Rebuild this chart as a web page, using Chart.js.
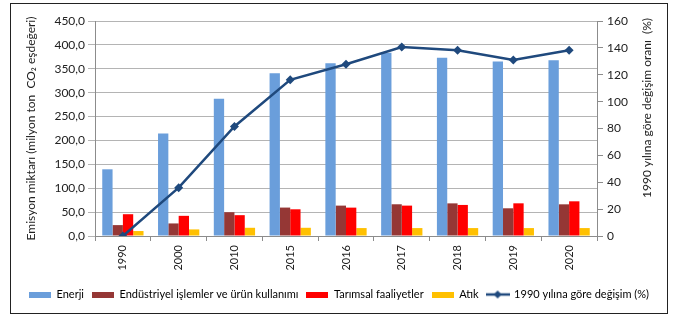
<!DOCTYPE html>
<html>
<head>
<meta charset="utf-8">
<script src="https://cdn.jsdelivr.net/npm/chart.js@4/dist/chart.umd.min.js"></script>
<style>
  html, body { margin: 0; padding: 0; background: #fff; }
  #wrap { width: 674px; height: 328px; position: relative; }
</style>
</head>
<body>
<div id="wrap"><canvas id="sera" width="674" height="328"></canvas></div>
<script>
// yıllar ve sektör bazında emisyonlar (milyon ton CO2 eşdeğeri)
const yillar = ["1990", "2000", "2010", "2015", "2016", "2017", "2018", "2019", "2020"];
const enerji = [139.6, 214.6, 287.2, 340.8, 361.4, 383.8, 373.2, 365.2, 367.6];
const endustriyel = [22.8, 26.3, 49.8, 59.5, 63.6, 66.4, 68.3, 58.0, 66.3];
const tarimsal = [45.6, 42.2, 43.6, 55.9, 59.4, 63.6, 65.0, 68.4, 72.6];
const atik = [10.4, 13.8, 17.2, 17.2, 16.6, 16.6, 16.6, 16.6, 16.6];
// 1990 yılına göre değişim (%)
const degisim = [0, 36.0, 81.5, 116.2, 127.8, 140.6, 138.3, 131.0, 138.3];

const yaziTipi = "Lato, 'Open Sans', sans-serif";
const lacivert = "#1f497d";
const izgara = "#b4b4b4";

// lejant için küçük işaret resimleri
function kutu(renk) {
  const c = document.createElement("canvas");
  c.width = 22; c.height = 6;
  const g = c.getContext("2d");
  g.fillStyle = renk;
  g.fillRect(0, 0, 22, 6);
  return c;
}
function cizgiIsaret() {
  const c = document.createElement("canvas");
  c.width = 24; c.height = 10;
  const g = c.getContext("2d");
  g.strokeStyle = lacivert; g.lineWidth = 2.5;
  g.beginPath(); g.moveTo(0, 5); g.lineTo(24, 5); g.stroke();
  g.fillStyle = lacivert;
  g.beginPath(); g.moveTo(12, 1); g.lineTo(16, 5); g.lineTo(12, 9); g.lineTo(8, 5); g.closePath(); g.fill();
  return c;
}

// çerçeve ve sağ eksen başlığı
const cerceve = {
  id: "cerceve",
  afterDraw(chart) {
    const ctx = chart.ctx;
    ctx.save();
    ctx.strokeStyle = "#222";
    ctx.lineWidth = 1;
    ctx.strokeRect(10.5, 3.5, 657, 310);
    ctx.translate(647, 108);
    ctx.rotate(-Math.PI / 2);
    ctx.fillStyle = "#222";
    ctx.font = "12px " + yaziTipi;
    ctx.textAlign = "center";
    ctx.textBaseline = "middle";
    ctx.fillText("1990 yılına göre değişim oranı  (%)", 0, 0);
    ctx.restore();
  }
};

new Chart(document.getElementById("sera"), {
  type: "bar",
  data: {
    labels: yillar,
    datasets: [
      {
        type: "line",
        label: "1990 yılına göre değişim (%)",
        data: degisim,
        yAxisID: "y1",
        borderColor: lacivert,
        backgroundColor: lacivert,
        borderWidth: 2.5,
        pointStyle: "rectRot",
        pointRadius: 4.5,
        pointBorderWidth: 0,
        tension: 0,
        order: 0
      },
      { label: "Enerji", data: enerji, backgroundColor: "#6a9edb", order: 1 },
      { label: "Endüstriyel işlemler ve ürün kullanımı", data: endustriyel, backgroundColor: "#953735", order: 1 },
      { label: "Tarımsal faaliyetler", data: tarimsal, backgroundColor: "#ff0000", order: 1 },
      { label: "Atık", data: atik, backgroundColor: "#ffc000", order: 1 }
    ]
  },
  options: {
    responsive: false,
    animation: false,
    devicePixelRatio: 1,
    categoryPercentage: 0.74,
    barPercentage: 1,
    layout: { padding: { top: 21, left: 10, right: 6, bottom: 18 } },
    plugins: {
      tooltip: { enabled: false },
      legend: {
        position: "bottom",
        labels: {
          usePointStyle: true,
          pointStyleWidth: 22,
          padding: 8,
          color: "#222",
          font: { family: yaziTipi, size: 11 },
          generateLabels(chart) {
            const ds = chart.data.datasets;
            const sira = [1, 2, 3, 4, 0];
            return sira.map(i => ({
              text: ds[i].label,
              pointStyle: i === 0 ? cizgiIsaret() : kutu(ds[i].backgroundColor),
              fillStyle: ds[i].backgroundColor,
              strokeStyle: ds[i].backgroundColor,
              lineWidth: 0,
              hidden: false,
              datasetIndex: i
            }));
          }
        }
      }
    },
    scales: {
      x: {
        offset: true,
        grid: { display: true, drawOnChartArea: false, offset: true, tickLength: 5, color: "#8c8c8c" },
        border: { color: "#8c8c8c" },
        ticks: {
          minRotation: 90, maxRotation: 90, padding: 4,
          color: "#222", font: { family: yaziTipi, size: 11 }
        },
        afterFit(s) { s.height = 45; }
      },
      y: {
        position: "left",
        min: 0, max: 450,
        ticks: {
          stepSize: 50, padding: 3, color: "#222",
          font: { family: yaziTipi, size: 12 },
          callback: v => v.toFixed(1).replace(".", ",")
        },
        grid: { color: izgara, tickLength: 7 },
        border: { color: "#8c8c8c" },
        title: {
          display: true,
          text: "Emisyon miktarı (milyon ton  CO₂ eşdeğeri)",
          color: "#222",
          font: { family: yaziTipi, size: 12 },
          padding: { top: 14, bottom: 0 }
        },
        afterFit(s) { s.width = 85; }
      },
      y1: {
        position: "right",
        min: 0, max: 160,
        ticks: { stepSize: 20, padding: 4, color: "#222", font: { family: yaziTipi, size: 12 } },
        grid: { drawOnChartArea: false, tickLength: 6, color: "#8c8c8c" },
        border: { color: "#8c8c8c" },
        afterFit(s) { s.width = 71; }
      }
    }
  },
  plugins: [cerceve]
});
</script>
</body>
</html>
